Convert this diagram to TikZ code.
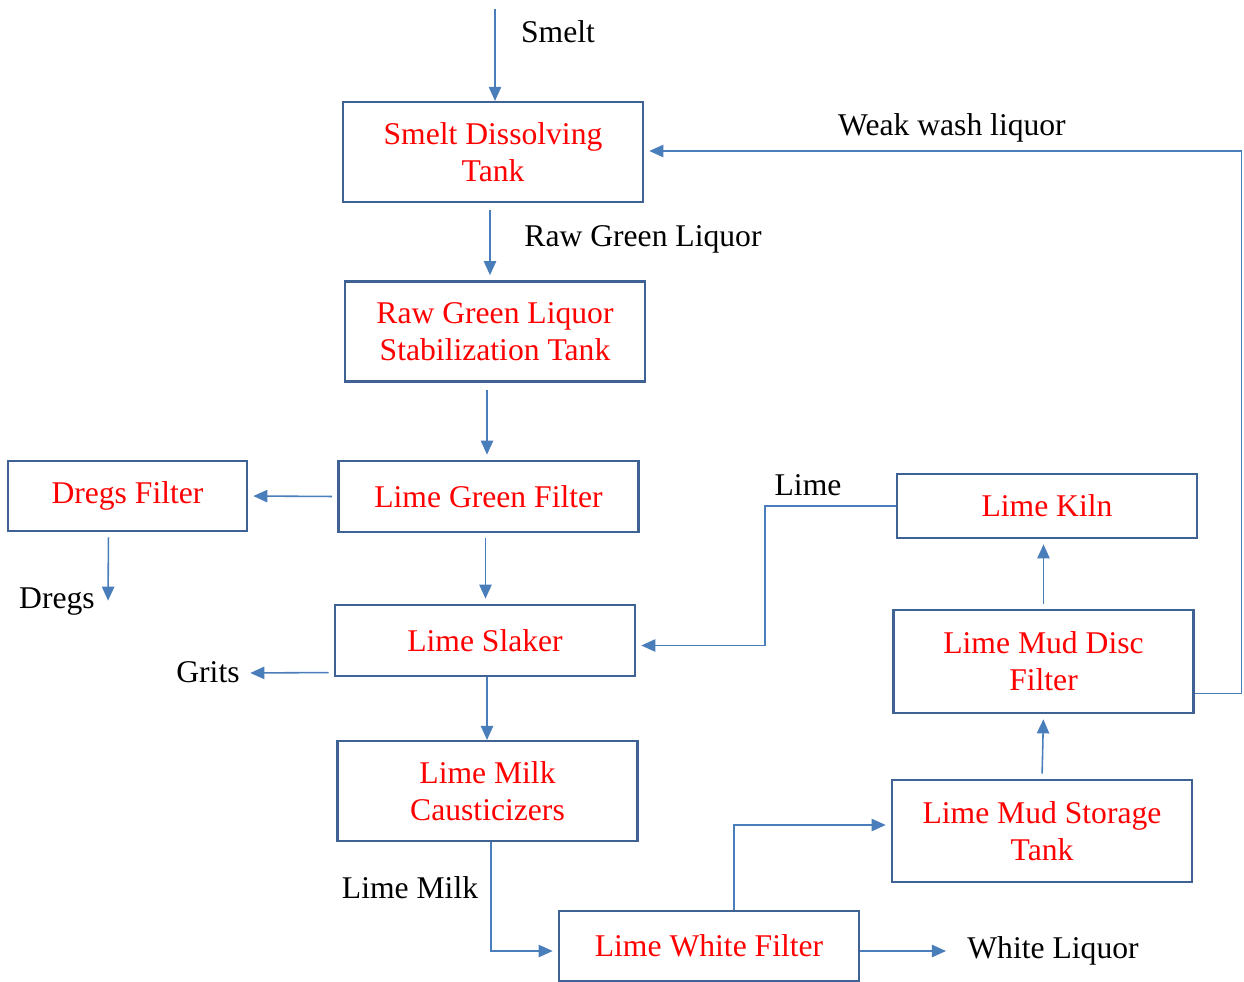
\documentclass[tikz,border=0pt]{standalone}
\usepackage{fontspec}
\setmainfont{Liberation Serif}
\usetikzlibrary{arrows.meta, positioning, calc}
\definecolor{boxblue}{RGB}{62,98,148}
\definecolor{lineblue}{RGB}{74,126,187}
\tikzset{
  procbox/.style={draw=boxblue, line width=1.2pt, text=red, align=center,
    minimum width=6cm, minimum height=2cm, inner sep=0pt,
    font=\fontsize{18}{21}\selectfont}
}
\tikzset{
  flowline/.style={draw=lineblue, line width=0.9pt,
    -{Triangle[length=8pt, width=7pt, fill=lineblue]},
    shorten >=3pt, shorten <=3pt}
}
\tikzset{
  flowlabel/.style={font=\fontsize{18}{21}\selectfont, inner sep=0pt}
}

\begin{document}
\begin{tikzpicture}[x=0.02cm, y=-0.02cm]
  \useasboundingbox (0,0) rectangle (1244,981);

  % main line (left column)
  \node[procbox] (sdt) at (493,152) {Smelt Dissolving\\Tank};
  \node[procbox] (rgl) at (495,331.5) {Raw Green Liquor\\Stabilization Tank};
  \node[procbox, minimum height=1.42cm] (lgf) at (488.5,496.5) {Lime Green Filter};
  \node[procbox, minimum width=4.78cm, minimum height=1.4cm] (dregs) at (127.5,496) {Dregs Filter};
  \node[procbox, minimum height=1.42cm] (slaker) at (485,640.5) {Lime Slaker};
  \node[procbox] (caus) at (487.5,791) {Lime Milk\\Causticizers};
  \node[procbox, minimum height=1.4cm] (lwf) at (709,946) {Lime White Filter};

  % lime recovery (right column)
  \node[procbox, minimum height=1.28cm] (kiln) at (1047,506) {Lime Kiln};
  \node[procbox, minimum height=2.06cm] (disc) at (1043.5,661.5) {Lime Mud Disc\\Filter};
  \node[procbox, minimum height=2.04cm] (storage) at (1042,831) {Lime Mud Storage\\Tank};

  % free ends and tap points
  \coordinate (smeltin) at (495,9);
  \coordinate (dregsout) at (108,606);
  \coordinate (gritsout) at (245,673);
  \coordinate (whiteout) at (946,951);
  \coordinate (sdtout) at ($(sdt.south)+(-3,2)$);
  \coordinate (rglout) at ($(rgl.south)+(-8,2)$);
  \coordinate (lgfout) at ($(lgf.south)+(-3,0)$);
  \coordinate (dregsdown) at ($(dregs.south)+(-19,0)$);
  \coordinate (slakerout) at ($(slaker.south)+(2,0)$);
  \coordinate (causout) at ($(caus.south)+(3.5,0)$);
  \coordinate (lwfup) at ($(lwf.north)+(25,0)$);

  % streams down the main line
  \draw[flowline, shorten <=0pt, shorten >=0pt] (smeltin) -- (smeltin |- sdt.north);
  \node[flowlabel] (smeltlbl) at (558,32) {Smelt};
  \draw[flowline] (sdtout) -- (sdtout |- rgl.north);
  \node[flowlabel] (rgllbl) at (643,239) {Raw Green Liquor};
  \draw[flowline] (rglout) -- (rglout |- lgf.north);
  \draw[flowline] (lgf.west) -- (dregs.east);
  \draw[flowline] (dregsdown) -- (dregsout);
  \node[flowlabel] (dregslbl) at (57,602) {Dregs};
  \draw[flowline] (lgfout) -- (lgfout |- slaker.north);
  \draw[flowline] ($(slaker.west)+(0,32)$) -- (gritsout);
  \node[flowlabel] (gritslbl) at (208,672) {Grits};
  \draw[flowline, shorten <=0pt, shorten >=0pt] (slakerout) -- (slakerout |- caus.north);
  \draw[flowline, shorten <=0pt] (causout) |- ($(lwf.west)+(0,5)$);
  \node[flowlabel] (milklbl) at (410,888) {Lime Milk};
  \draw[flowline, shorten <=0pt, shorten >=0pt] ($(lwf.east)+(0,5)$) -- (whiteout);
  \node[flowlabel] (whitelbl) at (1053,951) {White Liquor};

  % lime mud loop
  \draw[flowline, shorten <=0pt] (lwfup) |- ($(storage.west)+(0,-6)$);
  \draw[flowline] (storage.north) -- (disc.south);
  \draw[flowline] (disc.north) -- (disc.north |- kiln.south);
  \draw[flowline, shorten <=0pt] (kiln.west) -- ++(-131,0) |- ($(slaker.east)+(0,5)$);
  \node[flowlabel] (limelbl) at (808,485) {Lime};

  % weak wash back to the dissolving tank
  \draw[flowline, shorten <=0pt] ($(disc.east)+(0,32)$) -- ++(47,0) |- ($(sdt.east)+(0,-1)$);
  \node[flowlabel] (weaklbl) at (952,128) {Weak wash liquor};
\end{tikzpicture}
\end{document}
